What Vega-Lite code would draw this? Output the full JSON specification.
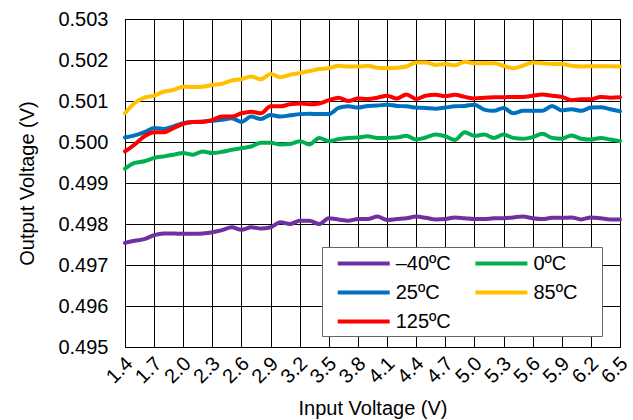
{
"$schema": "https://vega.github.io/schema/vega-lite/v6.json",
"width": 495, "height": 328,
"autosize": {"type": "none"},
"padding": {"left": 125, "top": 19, "right": 13, "bottom": 73},
"background": "#ffffff",
"config": {
 "font": "Liberation Sans",
 "view": {"stroke": "#000", "strokeWidth": 1},
 "axis": {"gridColor": "#000", "gridOpacity": 1, "gridWidth": 1, "domainColor": "#000", "ticks": false, "labelFontSize": 20, "titleFontSize": 20, "labelColor": "#000", "titleColor": "#000", "titleFontWeight": "normal", "labelFont": "Liberation Sans", "titleFont": "Liberation Sans"}
},
"data": {"values": [
{"x":1.4,"t":"–40ºC","y":0.49754},{"x":1.5,"t":"–40ºC","y":0.49759},{"x":1.6,"t":"–40ºC","y":0.49763},{"x":1.7,"t":"–40ºC","y":0.49773},{"x":1.8,"t":"–40ºC","y":0.49777},{"x":1.9,"t":"–40ºC","y":0.49777},{"x":2.0,"t":"–40ºC","y":0.49776},{"x":2.1,"t":"–40ºC","y":0.49776},{"x":2.2,"t":"–40ºC","y":0.49777},{"x":2.3,"t":"–40ºC","y":0.4978},{"x":2.4,"t":"–40ºC","y":0.49785},{"x":2.5,"t":"–40ºC","y":0.49792},{"x":2.6,"t":"–40ºC","y":0.49786},{"x":2.7,"t":"–40ºC","y":0.49792},{"x":2.8,"t":"–40ºC","y":0.49789},{"x":2.9,"t":"–40ºC","y":0.49792},{"x":3.0,"t":"–40ºC","y":0.49804},{"x":3.1,"t":"–40ºC","y":0.498},{"x":3.2,"t":"–40ºC","y":0.49808},{"x":3.3,"t":"–40ºC","y":0.49808},{"x":3.4,"t":"–40ºC","y":0.498},{"x":3.5,"t":"–40ºC","y":0.49814},{"x":3.6,"t":"–40ºC","y":0.49811},{"x":3.7,"t":"–40ºC","y":0.49808},{"x":3.8,"t":"–40ºC","y":0.49812},{"x":3.9,"t":"–40ºC","y":0.49812},{"x":4.0,"t":"–40ºC","y":0.49818},{"x":4.1,"t":"–40ºC","y":0.4981},{"x":4.2,"t":"–40ºC","y":0.49812},{"x":4.3,"t":"–40ºC","y":0.49814},{"x":4.4,"t":"–40ºC","y":0.49818},{"x":4.5,"t":"–40ºC","y":0.49815},{"x":4.6,"t":"–40ºC","y":0.49811},{"x":4.7,"t":"–40ºC","y":0.49812},{"x":4.8,"t":"–40ºC","y":0.49816},{"x":4.9,"t":"–40ºC","y":0.49814},{"x":5.0,"t":"–40ºC","y":0.49812},{"x":5.1,"t":"–40ºC","y":0.49812},{"x":5.2,"t":"–40ºC","y":0.49814},{"x":5.3,"t":"–40ºC","y":0.49814},{"x":5.4,"t":"–40ºC","y":0.49816},{"x":5.5,"t":"–40ºC","y":0.49818},{"x":5.6,"t":"–40ºC","y":0.49814},{"x":5.7,"t":"–40ºC","y":0.49812},{"x":5.8,"t":"–40ºC","y":0.49815},{"x":5.9,"t":"–40ºC","y":0.49815},{"x":6.0,"t":"–40ºC","y":0.49816},{"x":6.1,"t":"–40ºC","y":0.49811},{"x":6.2,"t":"–40ºC","y":0.49816},{"x":6.3,"t":"–40ºC","y":0.49814},{"x":6.4,"t":"–40ºC","y":0.49811},{"x":6.5,"t":"–40ºC","y":0.49811},
{"x":1.4,"t":"0ºC","y":0.49935},{"x":1.5,"t":"0ºC","y":0.49949},{"x":1.6,"t":"0ºC","y":0.49953},{"x":1.7,"t":"0ºC","y":0.49961},{"x":1.8,"t":"0ºC","y":0.49965},{"x":1.9,"t":"0ºC","y":0.49969},{"x":2.0,"t":"0ºC","y":0.49973},{"x":2.1,"t":"0ºC","y":0.49969},{"x":2.2,"t":"0ºC","y":0.49977},{"x":2.3,"t":"0ºC","y":0.49973},{"x":2.4,"t":"0ºC","y":0.49976},{"x":2.5,"t":"0ºC","y":0.49981},{"x":2.6,"t":"0ºC","y":0.49985},{"x":2.7,"t":"0ºC","y":0.49989},{"x":2.8,"t":"0ºC","y":0.49998},{"x":2.9,"t":"0ºC","y":0.49998},{"x":3.0,"t":"0ºC","y":0.49994},{"x":3.1,"t":"0ºC","y":0.49995},{"x":3.2,"t":"0ºC","y":0.50002},{"x":3.3,"t":"0ºC","y":0.49994},{"x":3.4,"t":"0ºC","y":0.5001},{"x":3.5,"t":"0ºC","y":0.50002},{"x":3.6,"t":"0ºC","y":0.50007},{"x":3.7,"t":"0ºC","y":0.5001},{"x":3.8,"t":"0ºC","y":0.50011},{"x":3.9,"t":"0ºC","y":0.50014},{"x":4.0,"t":"0ºC","y":0.5001},{"x":4.1,"t":"0ºC","y":0.5001},{"x":4.2,"t":"0ºC","y":0.50011},{"x":4.3,"t":"0ºC","y":0.50015},{"x":4.4,"t":"0ºC","y":0.50006},{"x":4.5,"t":"0ºC","y":0.50011},{"x":4.6,"t":"0ºC","y":0.50018},{"x":4.7,"t":"0ºC","y":0.50014},{"x":4.8,"t":"0ºC","y":0.50005},{"x":4.9,"t":"0ºC","y":0.50024},{"x":5.0,"t":"0ºC","y":0.50015},{"x":5.1,"t":"0ºC","y":0.50018},{"x":5.2,"t":"0ºC","y":0.5001},{"x":5.3,"t":"0ºC","y":0.50018},{"x":5.4,"t":"0ºC","y":0.5001},{"x":5.5,"t":"0ºC","y":0.50008},{"x":5.6,"t":"0ºC","y":0.50012},{"x":5.7,"t":"0ºC","y":0.5002},{"x":5.8,"t":"0ºC","y":0.5001},{"x":5.9,"t":"0ºC","y":0.50008},{"x":6.0,"t":"0ºC","y":0.50016},{"x":6.1,"t":"0ºC","y":0.50008},{"x":6.2,"t":"0ºC","y":0.50006},{"x":6.3,"t":"0ºC","y":0.5001},{"x":6.4,"t":"0ºC","y":0.50006},{"x":6.5,"t":"0ºC","y":0.50002},
{"x":1.4,"t":"25ºC","y":0.50011},{"x":1.5,"t":"25ºC","y":0.50016},{"x":1.6,"t":"25ºC","y":0.50024},{"x":1.7,"t":"25ºC","y":0.50034},{"x":1.8,"t":"25ºC","y":0.50032},{"x":1.9,"t":"25ºC","y":0.50038},{"x":2.0,"t":"25ºC","y":0.50046},{"x":2.1,"t":"25ºC","y":0.50049},{"x":2.2,"t":"25ºC","y":0.5005},{"x":2.3,"t":"25ºC","y":0.50052},{"x":2.4,"t":"25ºC","y":0.50054},{"x":2.5,"t":"25ºC","y":0.50058},{"x":2.6,"t":"25ºC","y":0.50049},{"x":2.7,"t":"25ºC","y":0.50062},{"x":2.8,"t":"25ºC","y":0.50056},{"x":2.9,"t":"25ºC","y":0.50066},{"x":3.0,"t":"25ºC","y":0.50062},{"x":3.1,"t":"25ºC","y":0.50065},{"x":3.2,"t":"25ºC","y":0.50068},{"x":3.3,"t":"25ºC","y":0.50069},{"x":3.4,"t":"25ºC","y":0.50068},{"x":3.5,"t":"25ºC","y":0.50068},{"x":3.6,"t":"25ºC","y":0.50083},{"x":3.7,"t":"25ºC","y":0.50087},{"x":3.8,"t":"25ºC","y":0.50084},{"x":3.9,"t":"25ºC","y":0.50088},{"x":4.0,"t":"25ºC","y":0.50089},{"x":4.1,"t":"25ºC","y":0.50091},{"x":4.2,"t":"25ºC","y":0.50088},{"x":4.3,"t":"25ºC","y":0.50087},{"x":4.4,"t":"25ºC","y":0.50084},{"x":4.5,"t":"25ºC","y":0.50083},{"x":4.6,"t":"25ºC","y":0.50081},{"x":4.7,"t":"25ºC","y":0.50084},{"x":4.8,"t":"25ºC","y":0.50087},{"x":4.9,"t":"25ºC","y":0.50088},{"x":5.0,"t":"25ºC","y":0.50091},{"x":5.1,"t":"25ºC","y":0.50079},{"x":5.2,"t":"25ºC","y":0.50076},{"x":5.3,"t":"25ºC","y":0.50083},{"x":5.4,"t":"25ºC","y":0.5007},{"x":5.5,"t":"25ºC","y":0.50076},{"x":5.6,"t":"25ºC","y":0.50076},{"x":5.7,"t":"25ºC","y":0.50076},{"x":5.8,"t":"25ºC","y":0.50088},{"x":5.9,"t":"25ºC","y":0.50077},{"x":6.0,"t":"25ºC","y":0.5008},{"x":6.1,"t":"25ºC","y":0.50076},{"x":6.2,"t":"25ºC","y":0.50084},{"x":6.3,"t":"25ºC","y":0.50085},{"x":6.4,"t":"25ºC","y":0.5008},{"x":6.5,"t":"25ºC","y":0.50075},
{"x":1.4,"t":"85ºC","y":0.5007},{"x":1.5,"t":"85ºC","y":0.50095},{"x":1.6,"t":"85ºC","y":0.50108},{"x":1.7,"t":"85ºC","y":0.50113},{"x":1.8,"t":"85ºC","y":0.50123},{"x":1.9,"t":"85ºC","y":0.50127},{"x":2.0,"t":"85ºC","y":0.50135},{"x":2.1,"t":"85ºC","y":0.50134},{"x":2.2,"t":"85ºC","y":0.50135},{"x":2.3,"t":"85ºC","y":0.50139},{"x":2.4,"t":"85ºC","y":0.50142},{"x":2.5,"t":"85ºC","y":0.5015},{"x":2.6,"t":"85ºC","y":0.50153},{"x":2.7,"t":"85ºC","y":0.5016},{"x":2.8,"t":"85ºC","y":0.50153},{"x":2.9,"t":"85ºC","y":0.50166},{"x":3.0,"t":"85ºC","y":0.50158},{"x":3.1,"t":"85ºC","y":0.50164},{"x":3.2,"t":"85ºC","y":0.50168},{"x":3.3,"t":"85ºC","y":0.50173},{"x":3.4,"t":"85ºC","y":0.50178},{"x":3.5,"t":"85ºC","y":0.5018},{"x":3.6,"t":"85ºC","y":0.50186},{"x":3.7,"t":"85ºC","y":0.50184},{"x":3.8,"t":"85ºC","y":0.50184},{"x":3.9,"t":"85ºC","y":0.50186},{"x":4.0,"t":"85ºC","y":0.50181},{"x":4.1,"t":"85ºC","y":0.5018},{"x":4.2,"t":"85ºC","y":0.50181},{"x":4.3,"t":"85ºC","y":0.50184},{"x":4.4,"t":"85ºC","y":0.50194},{"x":4.5,"t":"85ºC","y":0.50194},{"x":4.6,"t":"85ºC","y":0.50188},{"x":4.7,"t":"85ºC","y":0.5019},{"x":4.8,"t":"85ºC","y":0.50187},{"x":4.9,"t":"85ºC","y":0.50196},{"x":5.0,"t":"85ºC","y":0.50192},{"x":5.1,"t":"85ºC","y":0.50192},{"x":5.2,"t":"85ºC","y":0.50192},{"x":5.3,"t":"85ºC","y":0.50186},{"x":5.4,"t":"85ºC","y":0.5018},{"x":5.5,"t":"85ºC","y":0.50186},{"x":5.6,"t":"85ºC","y":0.50194},{"x":5.7,"t":"85ºC","y":0.50192},{"x":5.8,"t":"85ºC","y":0.5019},{"x":5.9,"t":"85ºC","y":0.5019},{"x":6.0,"t":"85ºC","y":0.50186},{"x":6.1,"t":"85ºC","y":0.50184},{"x":6.2,"t":"85ºC","y":0.50185},{"x":6.3,"t":"85ºC","y":0.50185},{"x":6.4,"t":"85ºC","y":0.50185},{"x":6.5,"t":"85ºC","y":0.50184},
{"x":1.4,"t":"125ºC","y":0.49977},{"x":1.5,"t":"125ºC","y":0.49994},{"x":1.6,"t":"125ºC","y":0.50014},{"x":1.7,"t":"125ºC","y":0.50024},{"x":1.8,"t":"125ºC","y":0.50024},{"x":1.9,"t":"125ºC","y":0.50034},{"x":2.0,"t":"125ºC","y":0.50044},{"x":2.1,"t":"125ºC","y":0.50049},{"x":2.2,"t":"125ºC","y":0.50049},{"x":2.3,"t":"125ºC","y":0.50054},{"x":2.4,"t":"125ºC","y":0.50062},{"x":2.5,"t":"125ºC","y":0.50062},{"x":2.6,"t":"125ºC","y":0.5007},{"x":2.7,"t":"125ºC","y":0.50074},{"x":2.8,"t":"125ºC","y":0.5007},{"x":2.9,"t":"125ºC","y":0.50087},{"x":3.0,"t":"125ºC","y":0.50087},{"x":3.1,"t":"125ºC","y":0.50092},{"x":3.2,"t":"125ºC","y":0.50094},{"x":3.3,"t":"125ºC","y":0.50092},{"x":3.4,"t":"125ºC","y":0.50094},{"x":3.5,"t":"125ºC","y":0.50102},{"x":3.6,"t":"125ºC","y":0.50108},{"x":3.7,"t":"125ºC","y":0.501},{"x":3.8,"t":"125ºC","y":0.50106},{"x":3.9,"t":"125ºC","y":0.50105},{"x":4.0,"t":"125ºC","y":0.50108},{"x":4.1,"t":"125ºC","y":0.50113},{"x":4.2,"t":"125ºC","y":0.50106},{"x":4.3,"t":"125ºC","y":0.50116},{"x":4.4,"t":"125ºC","y":0.50105},{"x":4.5,"t":"125ºC","y":0.50113},{"x":4.6,"t":"125ºC","y":0.50115},{"x":4.7,"t":"125ºC","y":0.50112},{"x":4.8,"t":"125ºC","y":0.50115},{"x":4.9,"t":"125ºC","y":0.5011},{"x":5.0,"t":"125ºC","y":0.50106},{"x":5.1,"t":"125ºC","y":0.50108},{"x":5.2,"t":"125ºC","y":0.50109},{"x":5.3,"t":"125ºC","y":0.50109},{"x":5.4,"t":"125ºC","y":0.5011},{"x":5.5,"t":"125ºC","y":0.5011},{"x":5.6,"t":"125ºC","y":0.50113},{"x":5.7,"t":"125ºC","y":0.50116},{"x":5.8,"t":"125ºC","y":0.50113},{"x":5.9,"t":"125ºC","y":0.5011},{"x":6.0,"t":"125ºC","y":0.50102},{"x":6.1,"t":"125ºC","y":0.50104},{"x":6.2,"t":"125ºC","y":0.50104},{"x":6.3,"t":"125ºC","y":0.5011},{"x":6.4,"t":"125ºC","y":0.50108},{"x":6.5,"t":"125ºC","y":0.50109}
]},
"mark": {"type": "line", "strokeWidth": 4, "interpolate": "monotone", "strokeCap": "round", "strokeJoin": "round"},
"encoding": {
 "x": {"field": "x", "type": "quantitative",
  "scale": {"domain": [1.4, 6.5], "nice": false, "zero": false},
  "axis": {"values": [1.4,1.7,2.0,2.3,2.6,2.9,3.2,3.5,3.8,4.1,4.4,4.7,5.0,5.3,5.6,5.9,6.2,6.5], "format": ".1f", "labelAngle": -45, "labelAlign": "right", "labelBaseline": "top", "labelPadding": 6, "labelOffset": -3, "title": "Input Voltage (V)", "titlePadding": 12, "grid": true, "labelOverlap": false, "labelFlush": false}},
 "y": {"field": "y", "type": "quantitative",
  "scale": {"domain": [0.495, 0.503], "nice": false, "zero": false},
  "axis": {"values": [0.495,0.496,0.497,0.498,0.499,0.5,0.501,0.502,0.503], "format": ".3f", "labelPadding": 17, "title": "Output Voltage (V)", "titlePadding": 20, "grid": true, "labelOverlap": false, "labelFlush": false}},
 "color": {"field": "t", "type": "nominal",
  "scale": {"domain": ["–40ºC","0ºC","25ºC","85ºC","125ºC"], "range": ["#7030A0","#00B050","#0070C0","#FFC000","#FF0000"]},
  "legend": {"orient": "none", "legendX": 197, "legendY": 228, "columns": 2, "direction": "horizontal",
   "title": "\u00a0", "titleOrient": "right", "titleFontSize": 20, "titlePadding": 20,
   "symbolType": "M-0.08,0H5.12", "symbolSize": 400, "symbolStrokeWidth": 4,
   "labelFontSize": 20, "labelFont": "Liberation Sans", "labelColor": "#000", "labelOffset": 45.2, "labelLimit": 0,
   "padding": 4.5, "rowPadding": 7, "columnPadding": 12.7,
   "fillColor": "#ffffff", "strokeColor": "#666666"}}
}
}
